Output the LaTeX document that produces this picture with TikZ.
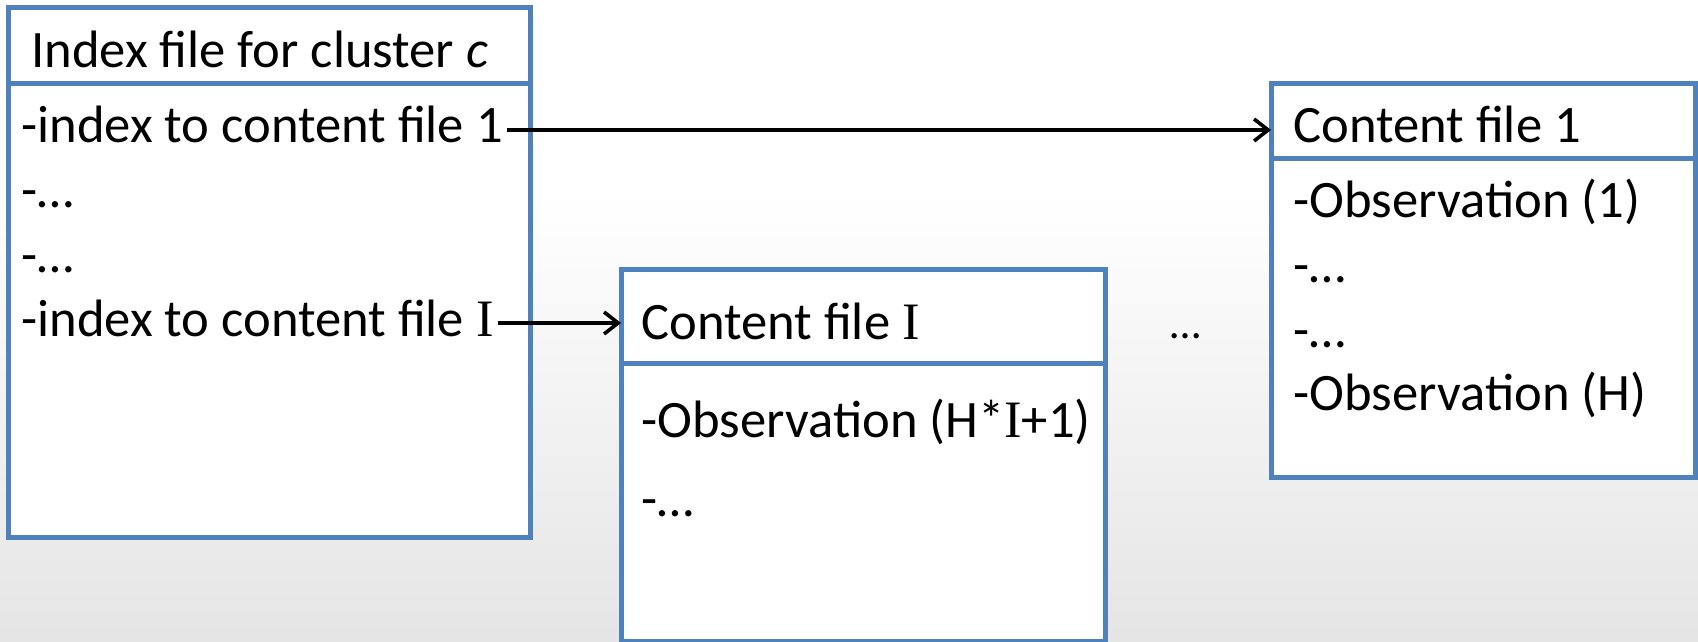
\documentclass[tikz,border=0pt]{standalone}
\usepackage{fontspec}
\setmainfont{Carlito}
\newfontfamily\romanI{Liberation Serif}
\usetikzlibrary{arrows.meta,positioning}

\definecolor{boxblue}{RGB}{79,129,189}
\definecolor{bgbottom}{RGB}{210,210,210}
\pgfdeclareverticalshading{slidebg}{100bp}{color(0bp)=(bgbottom); color(60bp)=(white); color(100bp)=(white)}
\newcommand{\bigI}{{\romanI I}}

\begin{document}
\begin{tikzpicture}[x=0.5pt,y=-0.5pt]
\tikzset{
  filebox/.style={draw=boxblue, line width=2.5pt, fill=white, inner sep=0pt, outer sep=0pt, anchor=north west},
  entry/.style={anchor=base west, inner sep=0pt, font=\fontsize{26.3}{30}\selectfont},
  link/.style={line width=1.8pt, -{Straight Barb[length=7pt,width=11pt]}}
}
% background
\fill[shading=slidebg] (0,0) rectangle (1698,642);
\useasboundingbox (0,0) rectangle (1698,642);

% index file
\node[filebox, minimum width=261pt, minimum height=38pt] (idxhead) at (8,8) {};
\node[filebox, minimum width=261pt, minimum height=226.5pt, anchor=north] (idxbody) at (idxhead.south) {};
\node[entry] (idxtitle) at (31,68) {Index file for cluster \textit{c}};
\node[entry] (idx1) at (21,143) {-index to content file 1};
\node[entry] (idx2) at (21,207) {-…};
\node[entry] (idx3) at (21,272) {-…};
\node[entry] (idx4) at (21,336) {-index to content file \bigI};

% content file 1
\node[filebox, minimum width=212pt, minimum height=37.5pt] (cf1head) at (1271,84) {};
\node[filebox, minimum width=212pt, minimum height=159pt, anchor=north] (cf1body) at (cf1head.south) {};
\node[entry] (cf1title) at (1293,143) {Content file 1};
\node[entry] (cf1a) at (1293,218) {-Observation (1)};
\node[entry] (cf1b) at (1293,282) {-…};
\node[entry] (cf1c) at (1293,347) {-…};
\node[entry] (cf1d) at (1293,410) {-Observation (H)};

% content file I
\node[filebox, minimum width=242pt, minimum height=47pt] (cfIhead) at (621,269) {};
\node[filebox, minimum width=242pt, minimum height=139pt, anchor=north] (cfIbody) at (cfIhead.south) {};
\node[entry] (cfItitle) at (641,339) {Content file \bigI};
\node[entry] (cfIa) at (641,437) {-Observation (H*\bigI+1)};
\node[entry] (cfIb) at (641,516) {-…};

% files in between
\node[entry, font=\fontsize{22}{26}\selectfont] (between) at (1170,338) {…};

% pointers
\coordinate (from1) at ([xshift=2pt,yshift=6.5pt]idx1.base east);
\coordinate (fromI) at ([xshift=2pt,yshift=6.5pt]idx4.base east);
\draw[link] (from1) -- (from1 -| cf1head.west);
\draw[link] (fromI) -- (fromI -| cfIhead.west);
\end{tikzpicture}
\end{document}
